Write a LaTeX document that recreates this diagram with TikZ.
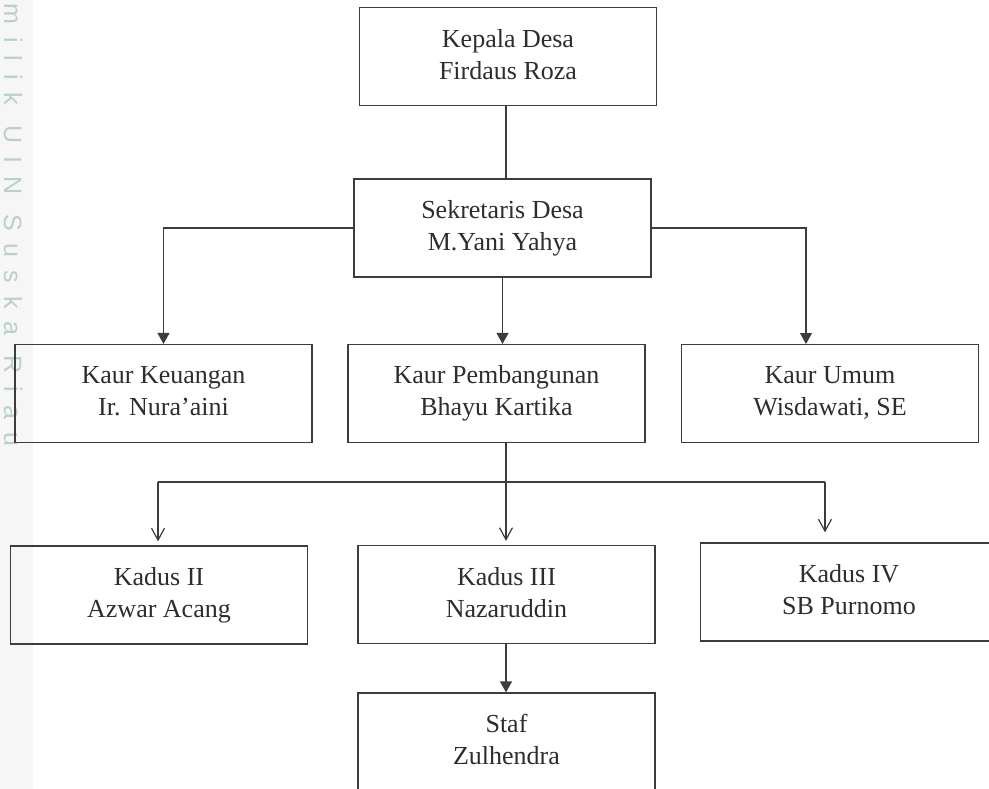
\documentclass[tikz,border=0pt]{standalone}
\usepackage{fontspec}
\setmainfont{Liberation Serif}
\newfontfamily\wmfont[LetterSpace=52]{Liberation Sans}
\usetikzlibrary{arrows.meta}
\definecolor{garis}{RGB}{60,60,60}
\definecolor{tulisan}{RGB}{45,45,45}
\definecolor{wm}{RGB}{185,208,200}
\newcommand\tegak{\rule[-5pt]{0pt}{30pt}}

\begin{document}
\begin{tikzpicture}[x=1pt,y=-1pt,
  kotak/.style={draw=garis,line width=1.2pt,minimum width=297pt,minimum height=98pt,
    inner sep=0pt,align=center,text=tulisan,font=\fontsize{26}{32}\selectfont,
    execute at begin node=\tegak,execute at end node=\tegak},
  hubung/.style={draw=garis,line width=1.2pt},
  panah/.style={hubung,-{Triangle[length=11pt,width=12pt]}},
  panahv/.style={hubung,-{Straight Barb[length=12pt,width=13pt]}}]
\useasboundingbox (0,0) rectangle (989,789);
\clip (0,0) rectangle (989,789);
\fill[gray!7] (0,0) rectangle (33,789);
\node[rotate=-90,anchor=west,text=wm,inner sep=0pt,font=\wmfont\fontsize{25}{28}\selectfont] (wmark) at (13,3) {milik UIN Suska Riau};

\node[kotak] (kades) at (508,56.5) {Kepala Desa\\Firdaus Roza};
\node[kotak] (sekdes) at (502.5,228) {Sekretaris Desa\\M.Yani Yahya};
\node[kotak] (kkeu) at (163.5,393.5) {Kaur Keuangan\\Ir. Nura'aini};
\node[kotak] (kpemb) at (496.5,393.5) {Kaur Pembangunan\\Bhayu Kartika};
\node[kotak] (kumum) at (830,393.5) {Kaur Umum\\Wisdawati, SE};
\node[kotak] (kd2) at (159,595) {Kadus II\\Azwar Acang};
\node[kotak] (kd3) at (506.5,594.5) {Kadus III\\Nazaruddin};
\node[kotak] (kd4) at (849,592) {Kadus IV\\SB Purnomo};
\node[kotak] (staf) at (506.5,742) {Staf\\Zulhendra};

\coordinate (cab2) at (158,482);
\coordinate (cab3) at (506,482);
\coordinate (cab4) at (825,482);
\coordinate (cum) at (806,344);

\draw[hubung] (kades.south -| cab3) -- (cab3 |- sekdes.north);
\draw[panah] (sekdes.west) -| (kkeu.north);
\draw[panah] (sekdes.east) -| (cum);
\draw[panah] (sekdes.south) -- (sekdes.south |- kpemb.north);
\draw[hubung] (cab2) -- (cab4);
\draw[panahv,shorten >=4pt] (cab3 |- kpemb.south) -- (cab3 |- kd3.north);
\draw[panahv,shorten >=4pt] (cab2) -- (cab2 |- kd2.north);
\draw[panahv,shorten >=10pt] (cab4) -- (cab4 |- kd4.north);
\draw[panah] (kd3.south -| cab3) -- (cab3 |- staf.north);
\end{tikzpicture}
\end{document}
